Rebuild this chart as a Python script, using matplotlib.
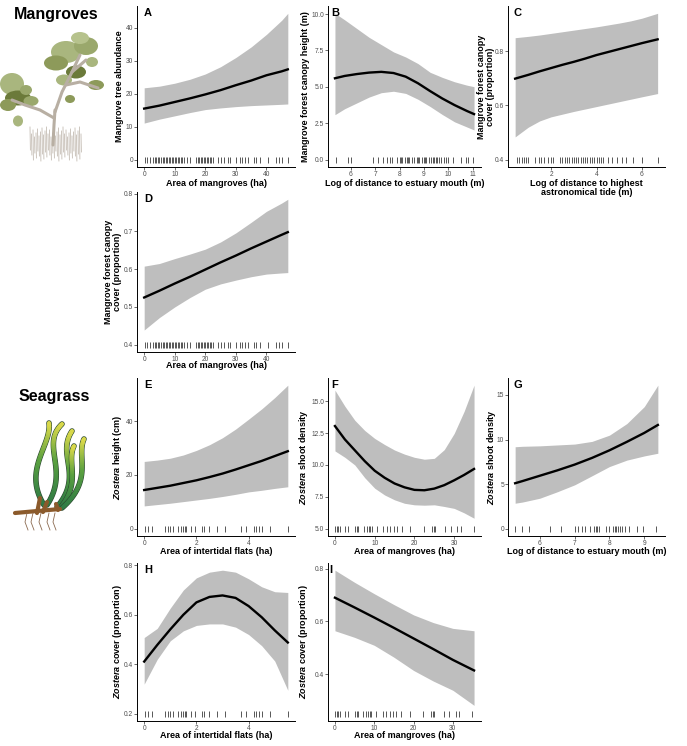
import numpy as np
import matplotlib
matplotlib.use("Agg")
import matplotlib.pyplot as plt
from matplotlib import transforms
from matplotlib.patches import Ellipse
from matplotlib.collections import LineCollection
from matplotlib.colors import LinearSegmentedColormap

plt.rcParams['font.family'] = ['Liberation Sans', 'DejaVu Sans']
plt.rcParams['mathtext.fontset'] = 'custom'
plt.rcParams['mathtext.rm'] = 'Liberation Sans:bold'
plt.rcParams['mathtext.bfit'] = 'Liberation Sans:italic:bold'

# ---- data ----
# A: tree abundance vs area of mangroves
a_x = [0, 5, 10, 15, 20, 25, 30, 35, 40, 45, 47]
a_fit = [15.5, 16.4, 17.5, 18.6, 19.8, 21.1, 22.6, 24.0, 25.6, 26.8, 27.4]
a_hi = [21.8, 22.3, 23.2, 24.4, 26.0, 28.2, 31.0, 34.2, 38.0, 42.3, 44.4]
a_lo = [11.1, 12.3, 13.3, 14.3, 15.2, 15.7, 16.1, 16.4, 16.6, 16.8, 16.9]

# B: canopy height vs log distance to estuary mouth
b_x = [5.35, 5.75, 6.25, 6.75, 7.25, 7.75, 8.25, 8.75, 9.25, 9.75, 10.25, 10.75, 11.05]
b_fit = [5.59, 5.75, 5.88, 5.98, 6.03, 5.95, 5.70, 5.25, 4.71, 4.20, 3.75, 3.35, 3.13]
b_hi = [10.05, 9.6, 9.0, 8.4, 7.9, 7.4, 7.05, 6.6, 6.0, 5.65, 5.35, 5.12, 5.01]
b_lo = [3.09, 3.5, 3.9, 4.3, 4.6, 4.7, 4.55, 4.15, 3.65, 3.1, 2.6, 2.25, 2.04]

# C: canopy cover vs log distance to HAT
c_x = [0.42, 1.0, 1.5, 2.0, 2.5, 3.0, 3.5, 4.0, 4.5, 5.0, 5.5, 6.0, 6.69]
c_fit = [0.699, 0.713, 0.726, 0.738, 0.750, 0.761, 0.773, 0.786, 0.797, 0.808, 0.819, 0.830, 0.844]
c_hi = [0.850, 0.855, 0.860, 0.866, 0.872, 0.878, 0.884, 0.890, 0.897, 0.904, 0.912, 0.922, 0.940]
c_lo = [0.484, 0.520, 0.543, 0.558, 0.568, 0.578, 0.587, 0.596, 0.605, 0.614, 0.623, 0.632, 0.644]

# D: canopy cover vs area of mangroves
d_x = [0, 5, 10, 15, 20, 25, 30, 35, 40, 45, 47]
d_fit = [0.525, 0.543, 0.562, 0.580, 0.599, 0.618, 0.636, 0.655, 0.673, 0.691, 0.698]
d_hi = [0.608, 0.615, 0.628, 0.640, 0.653, 0.672, 0.696, 0.724, 0.753, 0.775, 0.785]
d_lo = [0.439, 0.472, 0.500, 0.525, 0.547, 0.561, 0.571, 0.580, 0.587, 0.590, 0.591]

# E: Zostera height vs area of intertidal flats
e_x = [0, 0.5, 1, 1.5, 2, 2.5, 3, 3.5, 4, 4.5, 5, 5.5]
e_fit = [14.4, 15.2, 16.0, 17.0, 18.0, 19.2, 20.5, 22.0, 23.6, 25.2, 27.0, 28.8]
e_hi = [25.0, 25.5, 26.2, 27.4, 29.1, 31.2, 33.8, 37.0, 40.7, 44.5, 48.7, 53.3]
e_lo = [8.5, 9.0, 9.5, 10.1, 10.7, 11.3, 12.0, 12.8, 13.7, 14.3, 15.0, 15.6]

# F: shoot density vs area of mangroves
f_x = [0, 2.5, 5, 7.5, 10, 12.5, 15, 17.5, 20, 22.5, 25, 27.5, 30, 32.5, 35]
f_fit = [13.05, 12.0, 11.15, 10.3, 9.55, 9.0, 8.55, 8.25, 8.05, 8.02, 8.15, 8.42, 8.8, 9.22, 9.69]
f_hi = [15.86, 14.6, 13.5, 12.7, 12.08, 11.6, 11.17, 10.85, 10.6, 10.45, 10.52, 11.2, 12.47, 14.2, 16.25]
f_lo = [11.1, 10.6, 10.0, 9.0, 8.18, 7.65, 7.27, 7.0, 6.88, 6.85, 6.88, 6.75, 6.6, 6.25, 5.83]

# G: shoot density vs log distance to estuary mouth
g_x = [5.29, 5.5, 6.0, 6.5, 7.0, 7.5, 8.0, 8.5, 9.0, 9.39]
g_fit = [5.11, 5.35, 5.95, 6.55, 7.2, 7.95, 8.8, 9.75, 10.75, 11.64]
g_hi = [9.2, 9.25, 9.3, 9.4, 9.5, 9.8, 10.5, 11.8, 13.7, 16.1]
g_lo = [2.87, 3.0, 3.43, 4.15, 4.93, 5.95, 6.98, 7.7, 8.17, 8.47]

# H: Zostera cover vs area of intertidal flats
h_x = [0, 0.5, 1, 1.5, 2, 2.5, 3, 3.5, 4, 4.5, 5, 5.5]
h_fit = [0.411, 0.478, 0.541, 0.600, 0.650, 0.672, 0.678, 0.668, 0.635, 0.590, 0.537, 0.488]
h_hi = [0.508, 0.545, 0.627, 0.700, 0.749, 0.772, 0.780, 0.772, 0.745, 0.713, 0.693, 0.690]
h_lo = [0.320, 0.420, 0.495, 0.535, 0.557, 0.563, 0.563, 0.550, 0.520, 0.475, 0.413, 0.295]

# I: Zostera cover vs area of mangroves
i_x = [0, 5, 10, 15, 20, 25, 30, 35.4]
i_fit = [0.690, 0.653, 0.615, 0.576, 0.536, 0.496, 0.455, 0.415]
i_hi = [0.794, 0.748, 0.705, 0.664, 0.625, 0.596, 0.574, 0.565]
i_lo = [0.565, 0.540, 0.510, 0.465, 0.415, 0.375, 0.340, 0.283]

# rug observations
rug_mangrove_area = [0.2, 0.8, 2, 3, 3.5, 4, 4.5, 5, 5.5, 6, 6.5, 7, 7.5, 8, 8.5, 9, 9.5,
                     10, 10.5, 11, 11.5, 12, 12.5, 13, 14, 15, 17, 17.5, 18, 18.5, 19,
                     19.5, 20, 20.5, 21, 21.5, 22, 22.5, 24, 25, 26, 27.5, 28, 30, 31.5,
                     32, 33, 34, 36, 36.5, 38, 40.5, 43, 44, 45, 47]
rug_mouth_mangrove = [5.4, 5.9, 6.0, 6.9, 7.1, 7.3, 7.5, 7.6, 7.7, 7.9, 8.0, 8.05, 8.1,
                      8.2, 8.3, 8.35, 8.4, 8.5, 8.6, 8.7, 8.75, 8.8, 8.9, 9.0, 9.05, 9.1,
                      9.2, 9.3, 9.35, 9.4, 9.5, 9.55, 9.6, 9.7, 9.8, 9.9, 10.0, 10.2,
                      10.5, 10.7, 10.8, 11.0]
rug_hat = [0.5, 0.6, 0.7, 0.8, 0.9, 1.0, 1.3, 1.45, 1.55, 1.7, 1.85, 2.0, 2.1, 2.4, 2.5,
           2.6, 2.7, 2.8, 2.9, 3.0, 3.1, 3.2, 3.3, 3.4, 3.5, 3.6, 3.7, 3.8, 3.9, 4.0,
           4.1, 4.2, 4.3, 4.5, 4.7, 4.9, 5.1, 5.3, 5.6, 6.0, 6.7]
rug_flats = [0.05, 0.15, 0.3, 0.8, 0.9, 1.0, 1.1, 1.3, 1.4, 1.5, 1.55, 1.6, 1.8, 1.95,
             2.2, 2.3, 2.5, 2.8, 3.1, 3.7, 3.9, 4.2, 4.3, 4.4, 4.5, 4.8, 5.5]
rug_mangrove_sg = [0.0, 0.4, 0.8, 1.3, 2.5, 3.4, 5.0, 5.5, 5.9, 7.2, 8.0, 8.5, 8.9, 9.3,
                   10.5, 12.2, 13.0, 13.9, 14.8, 15.6, 16.9, 19.0, 22.4, 24.5, 24.9,
                   25.3, 27.8, 29.1, 30.8, 31.6, 35.0]
rug_mouth_seagrass = [5.3, 5.5, 5.7, 6.3, 6.6, 7.0, 7.1, 7.2, 7.3, 7.45, 7.55, 7.6, 7.65,
                      7.7, 7.9, 8.0, 8.1, 8.15, 8.2, 8.25, 8.3, 8.35, 8.45, 8.55, 8.8,
                      8.95, 9.35]

W, H = 687, 746
fig = plt.figure(figsize=(W / 100, H / 100), dpi=100)

# ---- illustrations (pixel space) ----
deco = fig.add_axes([0, 0, 1, 1])
deco.set_xlim(0, W)
deco.set_ylim(H, 0)
deco.axis('off')
deco.text(56, 14, "Mangroves", fontsize=11.5, fontweight='bold', ha='center', va='center')
deco.text(54, 397, "Seagrass", fontsize=11.5, fontweight='bold', ha='center', va='center')

# mangrove roots
for k, rx in enumerate(np.arange(30, 82, 1.5)):
    top = 127 + (k * 7) % 11
    bot = 150 + (k * 5) % 12
    deco.plot([rx, rx + 0.4], [top, bot], color='#c4bcb3', lw=0.6)
# trunk and branches
branches = [([53, 54, 55], [145, 125, 110]),
            ([54, 40, 25, 12], [118, 110, 105, 100]),
            ([55, 62, 72, 80], [112, 92, 72, 55]),
            ([66, 80, 98], [85, 82, 88]),
            ([72, 86], [72, 60])]
for bx, by in branches:
    deco.plot(bx, by, color='#b8afa3', lw=2.2, solid_capstyle='round')
leaves = [(66, 52, 30, 22, '#a9b67e'), (86, 46, 24, 18, '#9aa86c'), (56, 63, 24, 15, '#8d9a5a'),
          (76, 72, 20, 13, '#6b7a3a'), (64, 80, 16, 11, '#a9b67e'), (96, 85, 16, 10, '#8d9a5a'),
          (12, 84, 24, 22, '#a9b67e'), (18, 98, 26, 15, '#6b7a3a'), (8, 105, 16, 12, '#8d9a5a'),
          (31, 101, 15, 10, '#9aa86c'), (18, 121, 10, 11, '#a9b67e'), (70, 99, 10, 8, '#8d9a5a'),
          (80, 38, 18, 12, '#b6c28c'), (92, 62, 12, 10, '#a9b67e'), (26, 90, 12, 10, '#9aa86c')]
for cx, cy, w, h, col in leaves:
    deco.add_patch(Ellipse((cx, cy), w, h, color=col, lw=0))

# seagrass
def bez(p0, p1, p2, p3, n=40):
    t = np.linspace(0, 1, n)[:, None]
    p0, p1, p2, p3 = [np.array(p, float) for p in (p0, p1, p2, p3)]
    return (1 - t) ** 3 * p0 + 3 * (1 - t) ** 2 * t * p1 + 3 * (1 - t) * t ** 2 * p2 + t ** 3 * p3

cmap_sg = LinearSegmentedColormap.from_list('sg', ['#2f7a45', '#5aa040', '#d8d84a'])
blades = [((44, 505), (22, 470), (52, 445), (49, 423)),
          ((47, 505), (70, 470), (40, 445), (62, 424)),
          ((57, 507), (84, 475), (56, 455), (72, 431)),
          ((60, 508), (82, 482), (66, 462), (74, 446)),
          ((62, 508), (94, 480), (76, 456), (84, 439))]
for bl in blades:
    pts = bez(*bl)
    segs = np.stack([pts[:-1], pts[1:]], axis=1)
    deco.plot(pts[:, 0], pts[:, 1], color='#2d4a30', lw=4.0, solid_capstyle='round')
    lc = LineCollection(segs, cmap=cmap_sg, lw=3.0, capstyle='round')
    lc.set_array(np.linspace(0, 1, len(segs)))
    deco.add_collection(lc)
for rx0, ry0, rx1, ry1 in [(15, 513, 60, 509), (40, 498, 37, 513), (47, 502, 43, 512), (56, 504, 58, 510)]:
    deco.plot([rx0, rx1], [ry0, ry1], color='#8b5a2b', lw=3, solid_capstyle='round')
for rx in [27, 33, 41, 49, 55]:
    deco.plot([rx, rx - 2, rx + 1], [513, 522, 530], color='#8b6a50', lw=0.6)

# ---- panels ----
def px_axes(x0, x1, y0, y1):
    return fig.add_axes([x0 / W, 1 - y1 / H, (x1 - x0) / W, (y1 - y0) / H])

cols = [(137, 295), (328, 481), (508, 665)]
rows = [(6, 167), (192, 352), (378, 536), (563, 721)]
lab_fs = 6.5

def panel(col, row, letter, lx, x, fit, lo, hi, rug, rug_y, xticks, yticks, yfmt,
          xlabel, ylabel, xlab_y, ylab_x):
    ax = px_axes(cols[col][0], cols[col][1], rows[row][0], rows[row][1])
    ax.fill_between(x, lo, hi, color='#bebebe', lw=0)
    ax.plot(x, fit, color='black', lw=1.7)
    ax.plot(rug, [rug_y] * len(rug), ls='none', marker='|', ms=4.3, mew=0.55, color='#2a2a2a')
    ax.set_xticks(xticks)
    ax.set_yticks(yticks)
    ax.set_yticklabels([yfmt.format(v) for v in yticks])
    for s in ['top', 'right']:
        ax.spines[s].set_visible(False)
    for s in ['left', 'bottom']:
        ax.spines[s].set_linewidth(0.7)
    ax.tick_params(length=2.0, width=0.5, color='#333333', labelsize=4.8,
                   labelcolor='#4d4d4d', pad=0.8)
    ax.set_xlabel(xlabel, fontsize=lab_fs, fontweight='bold', va='center', linespacing=1.05)
    ax.set_ylabel(ylabel, fontsize=lab_fs, fontweight='bold', va='center', ha='center',
                  multialignment='center', linespacing=1.05)
    ax.xaxis.set_label_coords(0.5, 1 - xlab_y / H,
                              transform=transforms.blended_transform_factory(ax.transAxes, fig.transFigure))
    ax.yaxis.set_label_coords(ylab_x / W, 0.5,
                              transform=transforms.blended_transform_factory(fig.transFigure, ax.transAxes))
    fig.text(lx / W, 1 - (rows[row][0] + 7) / H, letter, fontsize=8, fontweight='bold',
             ha='left', va='center')
    return ax

zos = r'$\mathbfit{Zostera}$'
panel(0, 0, 'A', 144, a_x, a_fit, a_lo, a_hi, rug_mangrove_area, 0,
      [0, 10, 20, 30, 40], [0, 10, 20, 30, 40], '{:g}',
      'Area of mangroves (ha)', 'Mangrove tree abundance', 184, 120)
panel(1, 0, 'B', 331, b_x, b_fit, b_lo, b_hi, rug_mouth_mangrove, 0,
      [6, 7, 8, 9, 10, 11], [0, 2.5, 5, 7.5, 10], '{:.1f}',
      'Log of distance to estuary mouth (m)', 'Mangrove forest canopy height (m)', 184, 305)
panel(2, 0, 'C', 514, c_x, c_fit, c_lo, c_hi, rug_hat, 0.4,
      [2, 4, 6], [0.4, 0.6, 0.8], '{:.1f}',
      'Log of distance to highest\nastronomical tide (m)',
      'Mangrove forest canopy\ncover (proportion)', 188, 486)
panel(0, 1, 'D', 144, d_x, d_fit, d_lo, d_hi, rug_mangrove_area, 0.4,
      [0, 10, 20, 30, 40], [0.4, 0.5, 0.6, 0.7, 0.8], '{:.1f}',
      'Area of mangroves (ha)', 'Mangrove forest canopy\ncover (proportion)', 366, 113)
panel(0, 2, 'E', 144, e_x, e_fit, e_lo, e_hi, rug_flats, 0,
      [0, 2, 4], [0, 20, 40], '{:g}',
      'Area of intertidal flats (ha)', zos + ' height (cm)', 551, 118)
panel(1, 2, 'F', 331, f_x, f_fit, f_lo, f_hi, rug_mangrove_sg, 5.0,
      [0, 10, 20, 30], [5, 7.5, 10, 12.5, 15], '{:.1f}',
      'Area of mangroves (ha)', zos + ' shoot density', 551, 304)
panel(2, 2, 'G', 514, g_x, g_fit, g_lo, g_hi, rug_mouth_seagrass, 0,
      [6, 7, 8, 9], [0, 5, 10, 15], '{:g}',
      'Log of distance to estuary mouth (m)', zos + ' shoot density', 551, 491)
panel(0, 3, 'H', 144, h_x, h_fit, h_lo, h_hi, rug_flats, 0.2,
      [0, 2, 4], [0.2, 0.4, 0.6, 0.8], '{:.1f}',
      'Area of intertidal flats (ha)', zos + ' cover (proportion)', 735, 118)
panel(1, 3, 'I', 329, i_x, i_fit, i_lo, i_hi, rug_mangrove_sg, 0.251,
      [0, 10, 20, 30], [0.4, 0.6, 0.8], '{:.1f}',
      'Area of mangroves (ha)', zos + ' cover (proportion)', 735, 304)

plt.savefig("out.png", dpi=100)
